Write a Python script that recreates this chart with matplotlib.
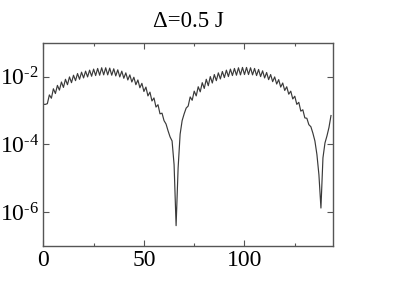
import numpy as np
import matplotlib
matplotlib.use("Agg")
import matplotlib.pyplot as plt
from matplotlib.ticker import FixedLocator, FuncFormatter

plt.rcParams['font.family'] = ['Liberation Serif', 'DejaVu Serif']
plt.rcParams['mathtext.fontset'] = 'custom'
plt.rcParams['mathtext.rm'] = 'Liberation Serif'
plt.rcParams['mathtext.it'] = 'Liberation Serif:italic'
plt.rcParams['mathtext.default'] = 'regular'

title = "Δ=0.5 J"
x_major = [0, 50, 100]
x_minor = [25, 75, 125]
y_major = [1e-6, 1e-4, 1e-2]

# log10 of the plotted quantity, at sites 0..143
log_values = [
    -2.82, -2.82, -2.80, -2.54, -2.64, -2.36, -2.50, -2.26, -2.40, -2.16,
    -2.32, -2.08, -2.24, -2.01, -2.18, -1.96, -2.12, -1.91, -2.08, -1.87,
    -2.04, -1.84, -2.01, -1.81, -1.99, -1.78, -1.97, -1.76, -1.96, -1.74,
    -1.95, -1.74, -1.95, -1.75, -1.96, -1.77, -1.98, -1.80, -2.01, -1.84,
    -2.05, -1.89, -2.10, -1.95, -2.16, -2.02, -2.24, -2.10, -2.33, -2.20,
    -2.44, -2.31, -2.57, -2.46, -2.72, -2.63, -2.90, -2.83, -3.10, -3.08,
    -3.30, -3.40, -3.60, -3.78, -3.90, -4.60, -6.40, -4.70, -3.70, -3.30,
    -3.10, -2.93, -2.87, -2.60, -2.70, -2.43, -2.57, -2.30, -2.45, -2.18,
    -2.35, -2.08, -2.27, -2.00, -2.19, -1.94, -2.12, -1.89, -2.07, -1.85,
    -2.03, -1.81, -2.00, -1.78, -1.97, -1.76, -1.96, -1.74, -1.95, -1.73,
    -1.94, -1.73, -1.94, -1.74, -1.95, -1.76, -1.97, -1.79, -2.00, -1.83,
    -2.04, -1.88, -2.09, -1.94, -2.15, -2.01, -2.22, -2.09, -2.31, -2.19,
    -2.41, -2.30, -2.52, -2.43, -2.66, -2.58, -2.82, -2.76, -3.02, -2.98,
    -3.22, -3.23, -3.42, -3.48, -3.67, -3.90, -4.30, -4.90, -5.88, -4.40,
    -3.96, -3.75, -3.50, -3.15,
]
sites = list(range(len(log_values)))
values = [10.0 ** v for v in log_values]


def sci_label(v, pos):
    e = int(round(np.log10(v)))
    return r"$10^{\text{-}%d}$" % (-e) if e < 0 else r"$10^{%d}$" % e


fig = plt.figure(figsize=(3.99, 2.82), dpi=100)
ax = fig.add_axes([0.1086, 0.1277, 0.726, 0.7209])
ax.plot(sites, values, color='#3a3a3a', lw=0.85)
ax.set_yscale('log')
ax.set_xlim(0, 144)
ax.set_ylim(1e-7, 1e-1)

ax.xaxis.set_major_locator(FixedLocator(x_major))
ax.xaxis.set_minor_locator(FixedLocator(x_minor))
ax.yaxis.set_major_locator(FixedLocator(y_major))
ax.yaxis.set_minor_locator(FixedLocator([]))
ax.yaxis.set_major_formatter(FuncFormatter(sci_label))

ax.tick_params(which='both', direction='in', top=True, right=True,
               color='#555555', labelsize=17, pad=3)
ax.tick_params(which='major', length=4.3, width=0.8)
ax.tick_params(which='minor', length=2.5, width=0.8)
for s in ax.spines.values():
    s.set_color('#555555')
    s.set_linewidth(1.0)

ax.set_title(title, fontsize=16.5, pad=11)

fig.savefig('out.png', dpi=100)
